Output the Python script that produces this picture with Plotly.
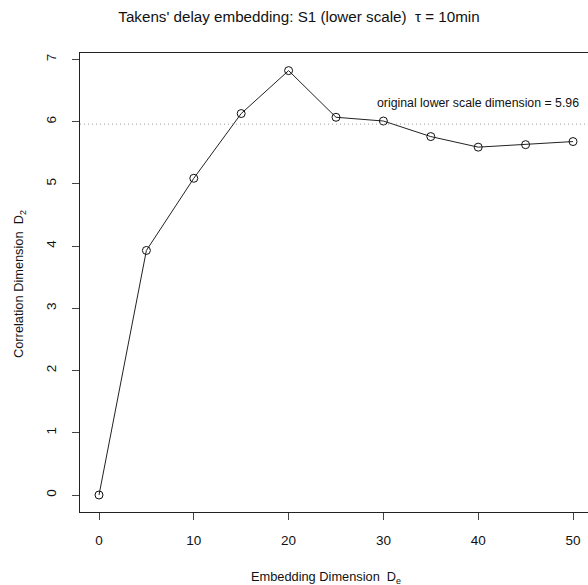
import plotly.graph_objects as go

# Data
embedding_dim = [0, 5, 10, 15, 20, 25, 30, 35, 40, 45, 50]
corr_dim = [0.0, 3.93, 5.09, 6.13, 6.82, 6.07, 6.01, 5.76, 5.59, 5.63, 5.68]
original_dim = 5.96
x_ticks = [0, 10, 20, 30, 40, 50]
y_ticks = [0, 1, 2, 3, 4, 5, 6, 7]

FONT = "Liberation Sans, Arial, Helvetica, sans-serif"
W, H = 588, 585
ML, MR, MT, MB = 80, 0, 53, 73
PW = W - ML - MR
PH = H - MT - MB

fig = go.Figure()
fig.add_trace(go.Scatter(
    x=embedding_dim, y=corr_dim, mode="lines+markers",
    line=dict(color="#222222", width=1),
    marker=dict(symbol="circle-open", size=8, color="#111111", line=dict(width=1, color="#111111")),
    showlegend=False, hoverinfo="x+y",
))

fig.add_shape(type="line", xref="paper", yref="y", x0=0, x1=1, y0=original_dim, y1=original_dim,
              line=dict(color="#9a9a9a", width=1, dash="1px,3px"))

def px_to_paper_x(px):
    return (px - ML) / PW

def px_to_paper_y(py):
    return (H - MB - py) / PH

annotations = [
    dict(text="original lower scale dimension = %.2f" % original_dim, x=40.0, y=6.30, xref="x", yref="y",
         showarrow=False, xanchor="center", yanchor="middle", font=dict(family=FONT, size=12.3, color="#111")),
    dict(text="Embedding Dimension  D<sub>e</sub>", x=px_to_paper_x(326), y=px_to_paper_y(577),
         xref="paper", yref="paper", showarrow=False, xanchor="center", yanchor="middle",
         font=dict(family=FONT, size=12.8, color="#111")),
    dict(text="Correlation Dimension  D<sub>2</sub>", x=px_to_paper_x(19), y=px_to_paper_y(284),
         xref="paper", yref="paper", showarrow=False, xanchor="center", yanchor="middle", textangle=-90,
         font=dict(family=FONT, size=12.8, color="#111")),
]

fig.update_layout(
    width=W, height=H,
    margin=dict(l=ML, r=MR, t=MT, b=MB, pad=0),
    paper_bgcolor="white", plot_bgcolor="white",
    title=dict(text="Takens' delay embedding: S1 (lower scale)  \u03c4 = 10min",
               x=299 / W, xref="container", xanchor="center",
               y=1 - 17 / H, yref="container", yanchor="middle",
               font=dict(family=FONT, size=15.2, color="#111")),
    annotations=annotations,
    xaxis=dict(range=[(ML - 99) / 9.48, (W - 99) / 9.48], tickvals=x_ticks, ticktext=[str(v) for v in x_ticks],
               showgrid=False, zeroline=False, showline=True, mirror=True, linecolor="#222", linewidth=1,
               ticks="outside", ticklen=7, tickcolor="#444", tickwidth=1,
               tickfont=dict(family=FONT, size=13.5, color="#111"), ticklabelstandoff=9),
    yaxis=dict(range=[-0.273, 7.103], tickvals=y_ticks, ticktext=[str(v) for v in y_ticks],
               showgrid=False, zeroline=False, showline=True, mirror=False, linecolor="#222", linewidth=1,
               ticks="outside", ticklen=7, tickcolor="#444", tickwidth=1, tickangle=-90,
               tickfont=dict(family=FONT, size=13.5, color="#111"), ticklabelstandoff=11),
)

fig.write_html("out.html")
